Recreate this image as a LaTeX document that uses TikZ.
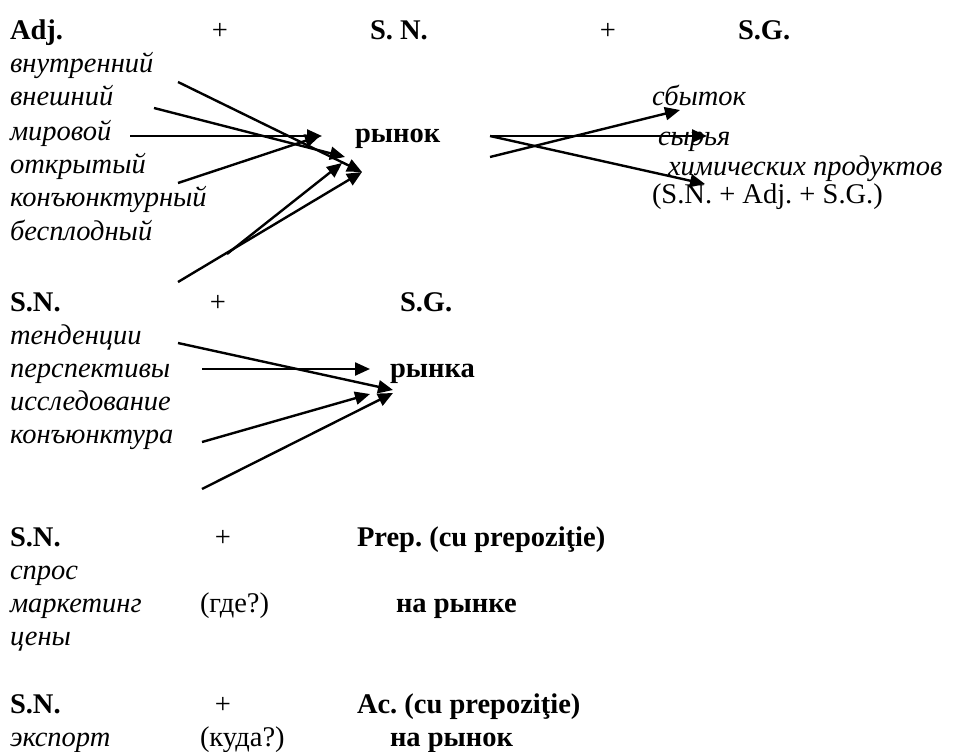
\documentclass[tikz,border=0pt]{standalone}
\usepackage{fontspec}
\setmainfont{Liberation Serif}
\usetikzlibrary{arrows.meta}
\frenchspacing
\begin{document}
\begin{tikzpicture}[x=1pt,y=-1pt,
  every node/.style={inner sep=0pt,outer sep=0pt,anchor=base west,font=\fontsize{28.5}{33}\selectfont\frenchspacing},
  hd/.style={font=\fontsize{28.5}{33}\selectfont\frenchspacing\bfseries},
  it/.style={font=\fontsize{28.5}{33}\selectfont\frenchspacing\itshape},
  pl/.style={anchor=base},
  arr/.style={line width=2.4pt,-{Triangle[length=15pt,width=13pt]}}]
\useasboundingbox[fill=white] (0,0) rectangle (956,752);
% ---- top block
\node[hd] (adj) at (10,40) {Adj.};
\node[pl] (p1) at (220,40) {+};
\node[hd] (sn1) at (370,40) {S. N.};
\node[pl] (p2) at (608,40) {+};
\node[hd] (sg1) at (738,40) {S.G.};
\node[it] (w1) at (10,73) {внутренний};
\node[it] (w2) at (10,106) {внешний};
\node[it] (w3) at (10,140) {мировой};
\node[it] (w4) at (10,173) {открытый};
\node[it] (w5) at (10,206) {конъюнктурный};
\node[it] (w6) at (10,240) {бесплодный};
\node[hd] (rynok) at (355,142) {рынок};
\node[it] (r1) at (652,106) {сбыток};
\node[it] (r2) at (658,145) {сырья};
\node[it] (r3) at (668,175) {химических продуктов};
\node (r4) at (652,203) {(S.N. + Adj. + S.G.)};
% coordinates of arrows (top)
\coordinate (a1s) at (178,82);  \coordinate (bow) at (362,172);
\coordinate (a2s) at (154,108); \coordinate (a2e) at (345,157);
\coordinate (a3s) at (130,136); \coordinate (a3e) at (322,136);
\coordinate (a4s) at (178,183); \coordinate (a4e) at (320,136);
\coordinate (a5s) at (178,282);
\coordinate (a6s) at (227,254); \coordinate (a6e) at (342,163);
\draw[arr] (a1s) -- (bow);
\draw[arr] (a2s) -- (a2e);
\draw[arr] (a3s) -- (a3e);
\draw[arr] (a4s) -- (a4e);
\draw[arr] (a5s) -- (bow);
\draw[arr] (a6s) -- (a6e);
% right arrows
\coordinate (b1s) at (490,136); \coordinate (b1e) at (707,136);
\coordinate (b2s) at (490,157); \coordinate (b2e) at (680,110);
\coordinate (b3e) at (705,184);
\draw[arr] (b1s) -- (b1e);
\draw[arr] (b2s) -- (b2e);
\draw[arr] (b1s) -- (b3e);
% ---- middle block
\node[hd] (sn2) at (10,311) {S.N.};
\node[pl] (p3) at (218,311) {+};
\node[hd] (sg2) at (400,311) {S.G.};
\node[it] (m1) at (10,344) {тенденции};
\node[it] (m2) at (10,377) {перспективы};
\node[it] (m3) at (10,410) {исследование};
\node[it] (m4) at (10,443) {конъюнктура};
\node[hd] (rynka) at (390,377) {рынка};
\coordinate (c1s) at (178,343); \coordinate (c1e) at (393,390);
\coordinate (c2s) at (202,369); \coordinate (c2e) at (370,369);
\coordinate (c3s) at (202,442); \coordinate (c3e) at (370,394);
\coordinate (c4s) at (202,489); \coordinate (c4e) at (393,393);
\draw[arr] (c1s) -- (c1e);
\draw[arr] (c2s) -- (c2e);
\draw[arr] (c3s) -- (c3e);
\draw[arr] (c4s) -- (c4e);
% ---- bottom block
\node[hd] (sn3) at (10,546) {S.N.};
\node[pl] (p4) at (223,546) {+};
\node[hd] (prep) at (357,546) {Prep. (cu prepoziţie)};
\node[it] (d1) at (10,579) {спрос};
\node[it] (d2) at (10,612) {маркетинг};
\node (gde) at (200,612) {(где?)};
\node[hd] (nr1) at (396,612) {на рынке};
\node[it] (d3) at (10,645) {цены};
\node[hd] (sn4) at (10,713) {S.N.};
\node[pl] (p5) at (223,713) {+};
\node[hd] (ac) at (357,713) {Ac. (cu prepoziţie)};
\node[it] (e1) at (10,746) {экспорт};
\node (kuda) at (200,746) {(куда?)};
\node[hd] (nr2) at (390,746) {на рынок};
\end{tikzpicture}
\end{document}
